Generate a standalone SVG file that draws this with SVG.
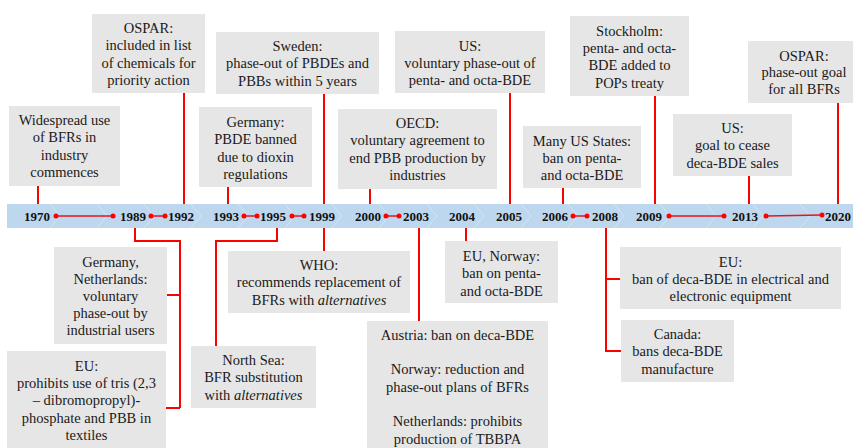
<svg xmlns="http://www.w3.org/2000/svg" width="853" height="448" viewBox="0 0 853 448">
<style>
.box{fill:#e6e6e6}
.t{font-family:"Liberation Serif","Times New Roman",serif;font-size:14.5px;fill:#1a1a1a;text-anchor:middle}
.y{font-family:"Liberation Serif","Times New Roman",serif;font-size:13px;font-weight:bold;fill:#111;text-anchor:middle}
.c{fill:none;stroke:#ff0000;stroke-width:2}
.d{fill:none;stroke:#e8141c;stroke-width:1.3}
.dot{fill:#ff0000}
.chev{fill:none;stroke:#ffffff;stroke-opacity:0.35;stroke-width:1}
</style>
<rect width="853" height="448" fill="#ffffff"/>
<g id="timeline">
<rect x="7" y="204" width="846" height="24" fill="#bdd7ee"/>
<g class="chev">
<polyline points="50,204 60,216 50,228"/>
<polyline points="97,204 107,216 97,228"/>
<polyline points="144,204 154,216 144,228"/>
<polyline points="191,204 201,216 191,228"/>
<polyline points="238,204 248,216 238,228"/>
<polyline points="285,204 295,216 285,228"/>
<polyline points="332,204 342,216 332,228"/>
<polyline points="379,204 389,216 379,228"/>
<polyline points="427,204 437,216 427,228"/>
<polyline points="474,204 484,216 474,228"/>
<polyline points="521,204 531,216 521,228"/>
<polyline points="568,204 578,216 568,228"/>
<polyline points="614,204 624,216 614,228"/>
<polyline points="660,204 670,216 660,228"/>
<polyline points="706,204 716,216 706,228"/>
<polyline points="753,204 763,216 753,228"/>
<polyline points="800,204 810,216 800,228"/>
</g>
<text class="y" x="37" y="220.5">1970</text>
<text class="y" x="133" y="220.5">1989</text>
<text class="y" x="181" y="220.5">1992</text>
<text class="y" x="226" y="220.5">1993</text>
<text class="y" x="273" y="220.5">1995</text>
<text class="y" x="322" y="220.5">1999</text>
<text class="y" x="368" y="220.5">2000</text>
<text class="y" x="416" y="220.5">2003</text>
<text class="y" x="462" y="220.5">2004</text>
<text class="y" x="509" y="220.5">2005</text>
<text class="y" x="555" y="220.5">2006</text>
<text class="y" x="605" y="220.5">2008</text>
<text class="y" x="649" y="220.5">2009</text>
<text class="y" x="745" y="220.5">2013</text>
<text class="y" x="838" y="220.5">2020</text>
</g>
<g id="connectors">
<path class="c" d="M38,186V204"/>
<path class="c" d="M184,93V204"/>
<path class="c" d="M324,94V204"/>
<path class="c" d="M228,187V204"/>
<path class="c" d="M370,189V204"/>
<path class="c" d="M510,93V204"/>
<path class="c" d="M563,188V204"/>
<path class="c" d="M655,96V204"/>
<path class="c" d="M749,176V204"/>
<path class="c" d="M838,103V204"/>
<path class="c" d="M135,228V241H180V408"/>
<path class="c" d="M167,295H180"/>
<path class="c" d="M166,408H180"/>
<path class="c" d="M277,228V241H216V346"/>
<path class="c" d="M324,228V251"/>
<path class="c" d="M419,228V321"/>
<path class="c" d="M466,228V241"/>
<path class="c" d="M606,228V351H621"/>
<path class="c" d="M606,279H620"/>
<g>
<path class="d" d="M56,216H113M151,216H165M244,216H257M292,216H304M386,216H399M573,216H587M669,216H724M766,216L822,215"/>
<circle class="dot" cx="56" cy="216" r="2.5"/><circle class="dot" cx="113" cy="216" r="2.5"/>
<circle class="dot" cx="151" cy="216" r="2.5"/><circle class="dot" cx="165" cy="216" r="2.5"/>
<circle class="dot" cx="244" cy="216" r="2.5"/><circle class="dot" cx="257" cy="216" r="2.5"/>
<circle class="dot" cx="292" cy="216" r="2.5"/><circle class="dot" cx="304" cy="216" r="2.5"/>
<circle class="dot" cx="386" cy="216" r="2.5"/><circle class="dot" cx="399" cy="216" r="2.5"/>
<circle class="dot" cx="573" cy="216" r="2.5"/><circle class="dot" cx="587" cy="216" r="2.5"/>
<circle class="dot" cx="669" cy="216" r="2.5"/><circle class="dot" cx="724" cy="216" r="2.5"/>
<circle class="dot" cx="766" cy="216" r="2.5"/><circle class="dot" cx="822" cy="215" r="2.5"/>
</g>
</g>
<g id="n1970">
<rect class="box" x="9" y="106" width="111" height="80"/>
<text class="t"><tspan x="64.5" y="125">Widespread use</tspan><tspan x="64.5" dy="17.4">of BFRs in</tspan><tspan x="64.5" dy="17.4">industry</tspan><tspan x="64.5" dy="17.4">commences</tspan></text>
</g>
<g id="n1992">
<rect class="box" x="92" y="14" width="113" height="79"/>
<text class="t"><tspan x="148.5" y="33">OSPAR:</tspan><tspan x="148.5" dy="17.4">included in list</tspan><tspan x="148.5" dy="17.4">of chemicals for</tspan><tspan x="148.5" dy="17.4">priority action</tspan></text>
</g>
<g id="n1999a">
<rect class="box" x="216" y="32" width="163" height="62"/>
<text class="t"><tspan x="297.5" y="51">Sweden:</tspan><tspan x="297.5" dy="17.4">phase-out of PBDEs and</tspan><tspan x="297.5" dy="17.4">PBBs within 5 years</tspan></text>
</g>
<g id="n1993">
<rect class="box" x="199" y="107" width="113" height="80"/>
<text class="t"><tspan x="255.5" y="127">Germany:</tspan><tspan x="255.5" dy="17.4">PBDE banned</tspan><tspan x="255.5" dy="17.4">due to dioxin</tspan><tspan x="255.5" dy="17.4">regulations</tspan></text>
</g>
<g id="n2000">
<rect class="box" x="338" y="109" width="159" height="80"/>
<text class="t"><tspan x="417.5" y="128">OECD:</tspan><tspan x="417.5" dy="17.4">voluntary agreement to</tspan><tspan x="417.5" dy="17.4">end PBB production by</tspan><tspan x="417.5" dy="17.4">industries</tspan></text>
</g>
<g id="n2005">
<rect class="box" x="395" y="31" width="150" height="62"/>
<text class="t"><tspan x="470" y="50.5">US:</tspan><tspan x="470" dy="17.4">voluntary phase-out of</tspan><tspan x="470" dy="17.4">penta- and octa-BDE</tspan></text>
</g>
<g id="n2006">
<rect class="box" x="523" y="126" width="118" height="62"/>
<text class="t"><tspan x="582" y="145.5">Many US States:</tspan><tspan x="582" dy="17.4">ban on penta-</tspan><tspan x="582" dy="17.4">and octa-BDE</tspan></text>
</g>
<g id="n2009">
<rect class="box" x="570" y="16" width="119" height="80"/>
<text class="t"><tspan x="629.5" y="35.5">Stockholm:</tspan><tspan x="629.5" dy="17.4">penta- and octa-</tspan><tspan x="629.5" dy="17.4">BDE added to</tspan><tspan x="629.5" dy="17.4">POPs treaty</tspan></text>
</g>
<g id="n2013">
<rect class="box" x="673" y="114" width="119" height="62"/>
<text class="t"><tspan x="732.5" y="132.8">US:</tspan><tspan x="732.5" dy="17.4">goal to cease</tspan><tspan x="732.5" dy="17.4">deca-BDE sales</tspan></text>
</g>
<g id="n2020">
<rect class="box" x="748" y="41" width="105" height="62"/>
<text class="t"><tspan x="804" y="60.5">OSPAR:</tspan><tspan x="804" dy="16.8">phase-out goal</tspan><tspan x="804" dy="16.8">for all BFRs</tspan></text>
</g>
<g id="n1989a">
<rect class="box" x="54" y="247" width="113" height="97"/>
<text class="t"><tspan x="110.5" y="267">Germany,</tspan><tspan x="110.5" dy="17">Netherlands:</tspan><tspan x="110.5" dy="17">voluntary</tspan><tspan x="110.5" dy="17">phase-out by</tspan><tspan x="110.5" dy="17">industrial users</tspan></text>
</g>
<g id="n1989b">
<rect class="box" x="7" y="351" width="159" height="99"/>
<text class="t"><tspan x="86.5" y="370.5">EU:</tspan><tspan x="86.5" dy="17.4">prohibits use of tris (2,3</tspan><tspan x="86.5" dy="17.4">– dibromopropyl)-</tspan><tspan x="86.5" dy="17.4">phosphate and PBB in</tspan><tspan x="86.5" dy="17.4">textiles</tspan></text>
</g>
<g id="n1995">
<rect class="box" x="191" y="346" width="125" height="62"/>
<text class="t"><tspan x="253.5" y="364.8">North Sea:</tspan><tspan x="253.5" dy="17.4">BFR substitution</tspan><tspan x="253.5" dy="17.4">with <tspan font-style="italic">alternatives</tspan></tspan></text>
</g>
<g id="n1999b">
<rect class="box" x="228" y="251" width="182" height="62"/>
<text class="t"><tspan x="319" y="269.8">WHO:</tspan><tspan x="319" dy="17.4">recommends replacement of</tspan><tspan x="319" dy="17.4">BFRs with <tspan font-style="italic">alternatives</tspan></tspan></text>
</g>
<g id="n2003">
<rect class="box" x="367" y="321" width="181" height="130"/>
<text class="t"><tspan x="457.5" y="339.8">Austria: ban on deca-BDE</tspan><tspan x="457.5" y="374.4">Norway: reduction and</tspan><tspan x="457.5" y="391.7">phase-out plans of BFRs</tspan><tspan x="457.5" y="426.3">Netherlands: prohibits</tspan><tspan x="457.5" y="443.6">production of TBBPA</tspan></text>
</g>
<g id="n2004">
<rect class="box" x="445" y="241" width="113" height="62"/>
<text class="t"><tspan x="501.5" y="260.8">EU, Norway:</tspan><tspan x="501.5" dy="17.4">ban on penta-</tspan><tspan x="501.5" dy="17.4">and octa-BDE</tspan></text>
</g>
<g id="n2008a">
<rect class="box" x="620" y="247" width="221" height="62"/>
<text class="t"><tspan x="730.5" y="266.5">EU:</tspan><tspan x="730.5" dy="17.4">ban of deca-BDE in electrical and</tspan><tspan x="730.5" dy="17.4">electronic equipment</tspan></text>
</g>
<g id="n2008b">
<rect class="box" x="621" y="320" width="113" height="62"/>
<text class="t"><tspan x="677.5" y="339">Canada:</tspan><tspan x="677.5" dy="17.4">bans deca-BDE</tspan><tspan x="677.5" dy="17.4">manufacture</tspan></text>
</g>
</svg>
